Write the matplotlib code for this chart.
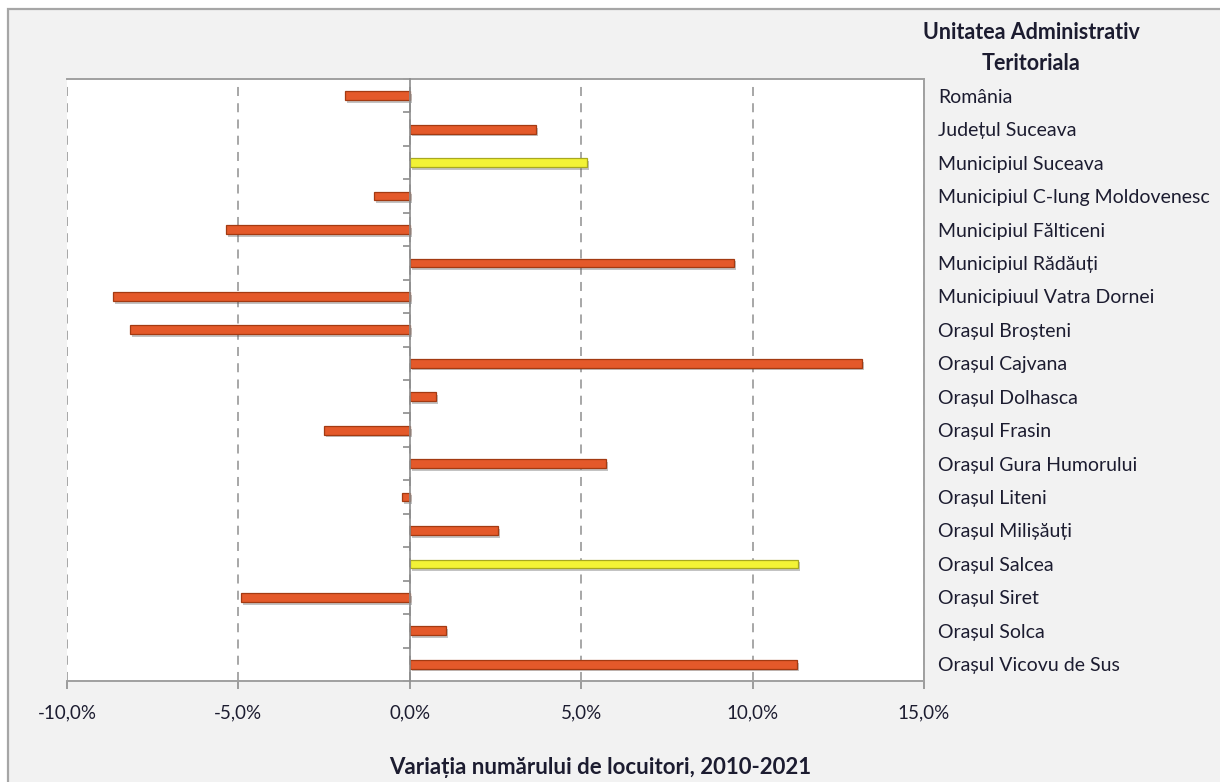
import matplotlib
matplotlib.use("Agg")
import matplotlib.pyplot as plt
import matplotlib.patheffects as pe
from matplotlib.patches import Rectangle
from matplotlib.ticker import FuncFormatter, FixedLocator

categories = [
    "România", "Județul Suceava", "Municipiul Suceava",
    "Municipiul C-lung Moldovenesc", "Municipiul Fălticeni",
    "Municipiul Rădăuți", "Municipiuul Vatra Dornei", "Orașul Broșteni",
    "Orașul Cajvana", "Orașul Dolhasca", "Orașul Frasin",
    "Orașul Gura Humorului", "Orașul Liteni", "Orașul Milișăuți",
    "Orașul Salcea", "Orașul Siret", "Orașul Solca", "Orașul Vicovu de Sus",
]
values = [-1.9, 3.68, 5.16, -1.05, -5.37, 9.45, -8.66, -8.17, 13.2, 0.76,
          -2.5, 5.72, -0.23, 2.57, 11.32, -4.93, 1.05, 11.29]
highlight = ["Municipiul Suceava", "Orașul Salcea"]
x_ticks = [-10, -5, 0, 5, 10, 15]

plt.rcParams['font.family'] = ['Lato', 'DejaVu Sans']
text_color = '#1c1c30'

fig = plt.figure(figsize=(12.2, 7.82), dpi=100, facecolor='white')
# outer chart frame
frame = Rectangle((8 / 1220, -0.05), 1.1, 1 - 9 / 782 + 0.05, transform=fig.transFigure,
                  facecolor='#f2f2f2', edgecolor='#a6a6a6', linewidth=1.6, zorder=-10)
fig.patches.append(frame)

ax = fig.add_axes([67 / 1220, 1 - 681 / 782, (924 - 67) / 1220, (681 - 79) / 782])
ax.set_facecolor('white')

ypos = list(range(len(categories)))
colors = ['#F3F336' if c in highlight else '#E4592A' for c in categories]
edges = ['#A8A820' if c in highlight else '#A33A12' for c in categories]
bars = ax.barh(ypos, values, height=0.26, color=colors, edgecolor=edges, linewidth=0.9, zorder=3)
for b in bars:
    b.set_path_effects([pe.SimplePatchShadow(offset=(1.5, -2), alpha=0.35, shadow_rgbFace='#555555'),
                        pe.Normal()])

ax.set_xlim(-10, 15)
ax.set_ylim(len(categories) - 0.5, -0.5)
ax.set_xticks(x_ticks)
ax.xaxis.set_major_formatter(FuncFormatter(lambda v, p: f"{v:.1f}%".replace('.', ',')))
ax.tick_params(axis='x', direction='out', length=6, color='#8c8c8c', width=1.2,
               labelsize=13.5, labelcolor=text_color, pad=11)

ax.grid(axis='x', linestyle=(0, (5, 4)), color='#a0a0a0', linewidth=1.3, zorder=0)
ax.grid(axis='y', visible=False)

for s in ['top', 'right', 'bottom']:
    ax.spines[s].set_color('#a0a0a0')
    ax.spines[s].set_linewidth(1.4)
ax.spines['left'].set_position(('data', 0))
ax.spines['left'].set_color('#8c8c8c')
ax.spines['left'].set_linewidth(1.2)
ax.spines['left'].set_zorder(4)
ax.yaxis.set_major_locator(FixedLocator([i + 0.5 for i in range(-1, len(categories))]))
ax.tick_params(axis='y', direction='out', length=5, color='#8c8c8c', width=1.2, labelleft=False)

sec = ax.secondary_yaxis('right')
sec.set_yticks(ypos)
sec.set_yticklabels(categories)
sec.tick_params(axis='y', length=0, pad=10, labelsize=14, labelcolor=text_color)
sec.spines['right'].set_visible(False)

fig.text(1031 / 1220, 1 - 48 / 782, "Unitatea Administrativ\nTeritoriala", ha='center', va='center',
         fontsize=15.5, fontweight='bold', color=text_color, linespacing=1.55)
fig.text(600 / 1220, 1 - 767 / 782, "Variația numărului de locuitori, 2010-2021", ha='center',
         va='center', fontsize=16, fontweight='bold', color=text_color)

fig.savefig("out.png", dpi=100, facecolor=fig.get_facecolor())
